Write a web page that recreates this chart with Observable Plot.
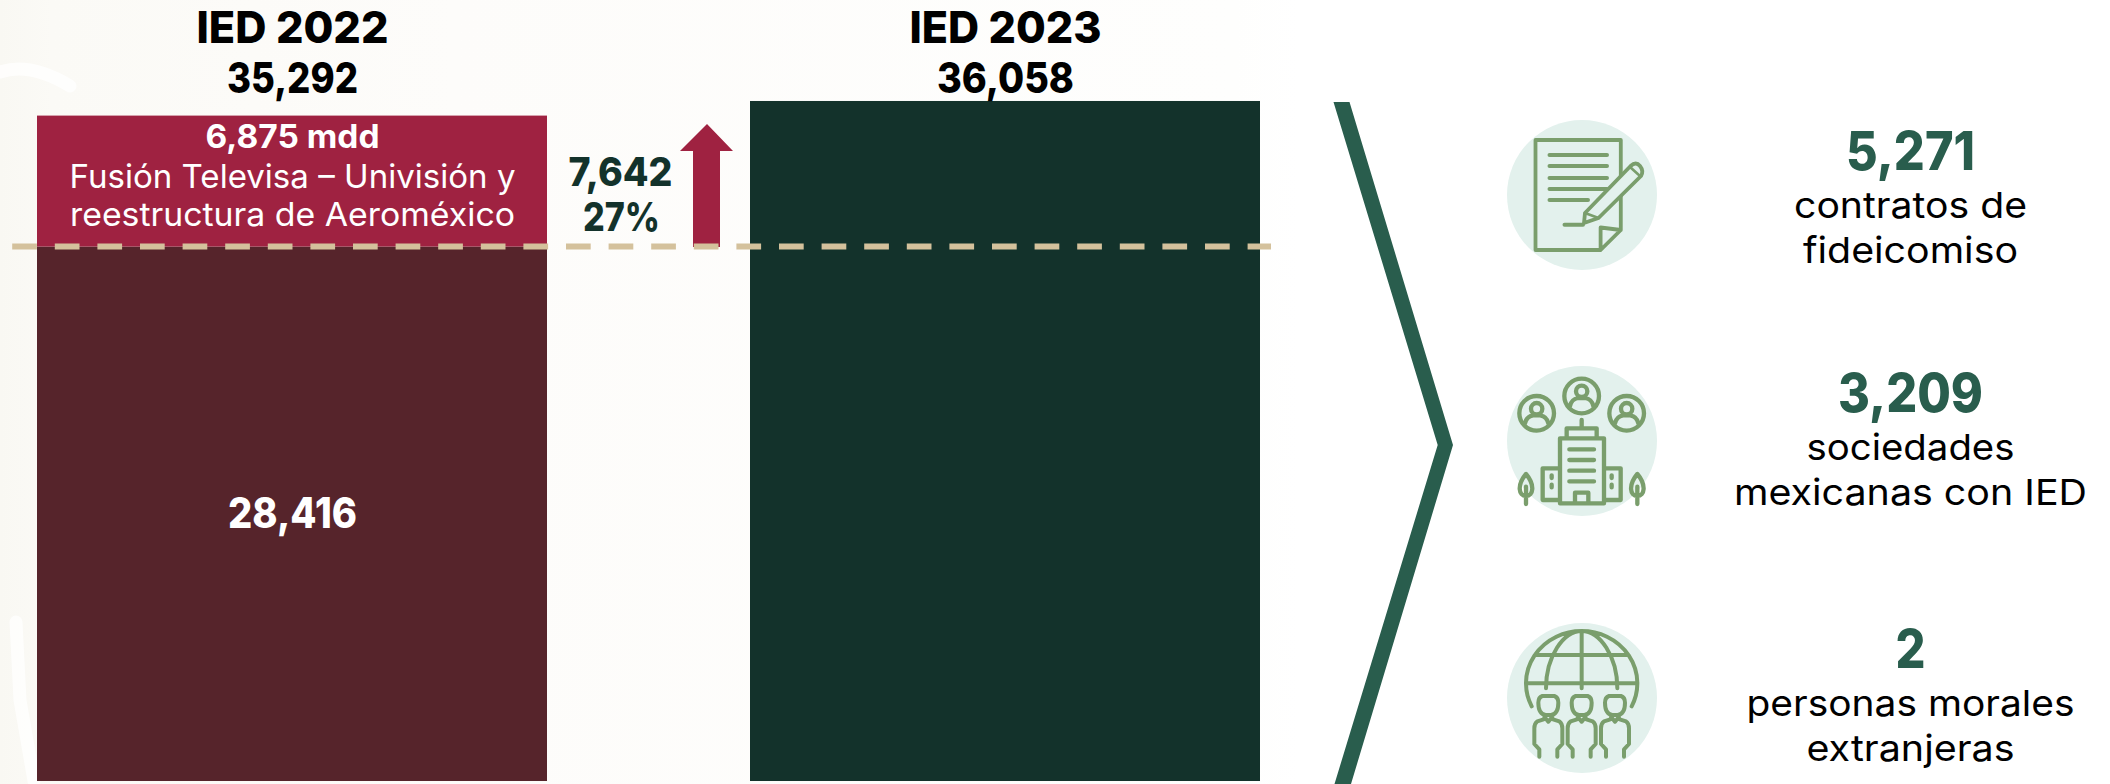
<!DOCTYPE html>
<html><head><meta charset="utf-8">
<style>html,body{margin:0;padding:0;background:#fff;overflow:hidden}svg{display:block}</style>
<script src="https://cdn.jsdelivr.net/npm/d3@7"></script>
<script src="https://cdn.jsdelivr.net/npm/@observablehq/plot@0.6"></script>
</head><body><div id="chart"></div>
<script>
const categories = ["IED 2022", "IED 2023"];
const totals = [35292, 36058];
const base2022 = 28416;
const fusion2022 = 6875;
const fusionLines = ["Fusión Televisa – Univisión y", "reestructura de Aeroméxico"];
const deltaLabels = ["7,642", "27%"];
const statValues = ["5,271", "3,209", "2"];
const statLine1 = ["contratos de", "sociedades", "personas morales"];
const statLine2 = ["fideicomiso", "mexicanas con IED", "extranjeras"];
const axisFloor = 367;

const segments = [
  {cat: categories[0], y1: axisFloor, y2: base2022, fill: "#56242b"},
  {cat: categories[0], y1: base2022, y2: base2022 + fusion2022, fill: "#9f2241"},
  {cat: categories[1], y1: axisFloor, y2: totals[1], fill: "#13322b"}
];

const FONT = "Inter, 'Noto Sans', sans-serif";
const GREEN = "#295d4d", ICON = "#7a9e6c", DISC = "#e3f1ed";
const fmt = d3.format(",");

// rendered text widths, matched to the wider typeface of the original
const textWidths = new Map([
  ["IED 2022", 192], ["IED 2023", 192], ["35,292", 131], ["36,058", 137],
  ["6,875 mdd", 174], [fusionLines[0], 446], [fusionLines[1], 445], ["28,416", 129],
  ["7,642", 104], ["27%", 77], ["5,271", 129], ["3,209", 145], ["2", 30],
  ["contratos de", 233], ["fideicomiso", 215], ["sociedades", 208],
  ["mexicanas con IED", 353], ["personas morales", 328], ["extranjeras", 208]
]);

function decoration(index, scales) {
  const g = d3.create("svg:g");
  g.append("path").attr("fill", "#9f2241").attr("d", "M693 247V151H680L707 124L733 151H720V247Z");
  g.append("line").attr("x1", 12.2).attr("x2", 1271).attr("y1", scales.y(base2022)).attr("y2", scales.y(base2022))
    .attr("stroke", "#d4c19c").attr("stroke-width", 6).attr("stroke-dasharray", "24.7 17.9");
  g.append("path").attr("fill", GREEN).attr("d", "M1333.5 102H1349.5L1453 445L1351 784H1334.5L1437.7 445Z");
  for (const cy of [195, 441, 698]) g.append("circle").attr("cx", 1582).attr("cy", cy).attr("r", 75).attr("fill", DISC);
  const icon = (tx, ty, s, d, w) => g.append("path").attr("transform", `translate(${tx},${ty}) scale(${s})`)
    .attr("d", d).attr("fill", "none").attr("stroke", ICON).attr("stroke-width", w)
    .attr("stroke-linecap", "round").attr("stroke-linejoin", "round");
  // document icon
  icon(0, 0, 1, "M1620.8 230V140H1535.5V250H1600.6L1620.8 230M1600.6 250V227.5L1620.8 230", 3.8);
  icon(0, 0, 1, "M1549.5 155H1607M1549.5 166H1607M1549.5 178H1607M1549.5 189H1607M1549.5 200H1588M1564.5 224.7H1583", 4);
  g.append("path").attr("d", "M1584 223L1585 213L1630.6 166Q1636 161 1640 166Q1644 171 1641 176L1598.5 218Z")
    .attr("fill", DISC).attr("stroke", ICON).attr("stroke-width", 3.8).attr("stroke-linejoin", "round");
  icon(0, 0, 1, "M1585 213L1598.5 218M1630 167L1640 176", 2.6);
  // building icon (authored in 3x local units)
  let p = "";
  for (const [cx, cy] of [[245, 108], [110, 160], [380, 160]]) {
    p += `M${cx - 52} ${cy}a52 52 0 1 0 104 0a52 52 0 1 0 -104 0`;
    p += `M${cx - 17} ${cy - 14}a17 17 0 1 0 34 0a17 17 0 1 0 -34 0`;
    p += `M${cx - 35} ${cy + 30}q4 -20 24 -24h22q20 4 24 24`;
  }
  p += "M245 180V205M200 235V205H290V235M180 430V235H312V430ZM180 325H128V420H180M312 325H362V420H312";
  p += "M208 268H282M208 300H282M208 332H282M208 364H282M225 430V398H265V430";
  p += "M155 346V354M155 374V382M335 346V354M335 374V382";
  for (const cx of [78, 412]) p += `M${cx} 342C${cx - 28} 375 ${cx - 22} 408 ${cx} 408C${cx + 22} 408 ${cx + 28} 375 ${cx} 342ZM${cx} 380V432`;
  icon(1500, 360, 1 / 3, p, 13);
  // globe icon (authored in 3x local units)
  p = "M95 259A167 157 0 1 1 395 259M80 190H410M105 105H385M245 33V205M138 205C138 110 190 33 245 33C300 33 352 110 352 205";
  for (const cx of [145, 245, 345]) {
    p += `M${cx - 18} 228H${cx + 18}Q${cx + 30} 232 ${cx + 30} 248Q${cx + 30} 282 ${cx + 8} 285H${cx - 8}Q${cx - 30} 282 ${cx - 30} 248Q${cx - 30} 232 ${cx - 18} 228Z`;
    p += `M${cx - 12} 290L${cx} 305L${cx + 12} 290`;
    p += `M${cx - 14} 298L${cx - 33} 304Q${cx - 42} 310 ${cx - 42} 325V372L${cx - 27} 388V410`;
    p += `M${cx + 14} 298L${cx + 33} 304Q${cx + 42} 310 ${cx + 42} 325V372L${cx + 27} 388V410`;
  }
  icon(1500, 620, 1 / 3, p, 12);
  return g.node();
}

// faint watermark behind the chart
function backdrop() {
  const g = d3.create("svg:g");
  const lg = g.append("linearGradient").attr("id", "wm").attr("x1", 0).attr("x2", 1).attr("y1", 0).attr("y2", 0);
  [[0, "#f9f8f3"], [0.04, "#fbfaf6"], [0.35, "#fdfcfa"], [0.95, "#fefefd"], [1, "#fff"]].forEach(([o, c]) =>
    lg.append("stop").attr("offset", o).attr("stop-color", c));
  g.append("rect").attr("width", 1300).attr("height", 784).attr("fill", "url(#wm)");
  g.append("path").attr("fill", "none").attr("stroke", "#fff").attr("stroke-width", 13).attr("stroke-linecap", "round").attr("stroke-opacity", 0.75)
    .attr("d", "M0 72Q30 62 70 86M16 622L20 700L34 781");
  return g.node();
}

const txt = (label, o) => Plot.text([label], {fontFamily: FONT, textAnchor: "middle", lineAnchor: "bottom", ...o});
const free = (label, cx, base, o) => txt(label, {frameAnchor: "top-left", dx: cx, dy: base, ...o});

const chart = Plot.plot({
  width: 2110, height: 784,
  marginTop: 0, marginRight: 0, marginBottom: 0, marginLeft: 0,
  style: {background: "#fff", fontFamily: FONT},
  x: {type: "band", domain: categories, range: [36, 1261], paddingInner: 0.2843, paddingOuter: 0, axis: null},
  y: {domain: [0, 41358], range: [788, 0], axis: null},
  marks: [
    backdrop,
    Plot.rectY(segments, {x: "cat", y1: "y1", y2: "y2", fill: d => d.fill}),
    decoration,
    txt(categories[0], {x: () => categories[0], y: () => totals[0], dy: -73, fontSize: 44, fontWeight: 800, fill: "#000"}),
    txt(fmt(totals[0]), {x: () => categories[0], y: () => totals[0], dy: -23, fontSize: 42, fontWeight: 800, fill: "#000"}),
    txt(categories[1], {x: () => categories[1], y: () => totals[1], dy: -58, fontSize: 44, fontWeight: 800, fill: "#000"}),
    txt(fmt(totals[1]), {x: () => categories[1], y: () => totals[1], dy: -8, fontSize: 42, fontWeight: 800, fill: "#000"}),
    txt(`${fmt(fusion2022)} mdd`, {x: () => categories[0], y: () => totals[0], dy: 32, fontSize: 32, fontWeight: 700, fill: "#fff"}),
    txt(fusionLines[0], {x: () => categories[0], y: () => totals[0], dy: 72, fontSize: 33, fontWeight: 400, fill: "#fff"}),
    txt(fusionLines[1], {x: () => categories[0], y: () => totals[0], dy: 110, fontSize: 33, fontWeight: 400, fill: "#fff"}),
    txt(fmt(base2022), {x: () => categories[0], y: () => base2022, dy: 281, fontSize: 42, fontWeight: 800, fill: "#fff"}),
    free(deltaLabels[0], 620, 185, {fontSize: 39, fontWeight: 800, fill: "#13322b"}),
    free(deltaLabels[1], 621, 230, {fontSize: 39, fontWeight: 800, fill: "#13322b"}),
    ...statValues.flatMap((v, i) => {
      const b = [169, 411, 667][i];
      return [
        free(v, 1910, b, {fontSize: 54, fontWeight: 800, fill: GREEN}),
        free(statLine1[i], 1910, b + 48, {fontSize: 36, fontWeight: 400, fill: "#000"}),
        free(statLine2[i], 1910, b + 93, {fontSize: 36, fontWeight: 400, fill: "#000"})
      ];
    })
  ]
});
chart.querySelectorAll("text").forEach(t => {
  const w = textWidths.get(t.textContent);
  if (w) { t.setAttribute("textLength", w); t.setAttribute("lengthAdjust", "spacingAndGlyphs"); }
});
document.getElementById("chart").append(chart);
</script></body></html>
